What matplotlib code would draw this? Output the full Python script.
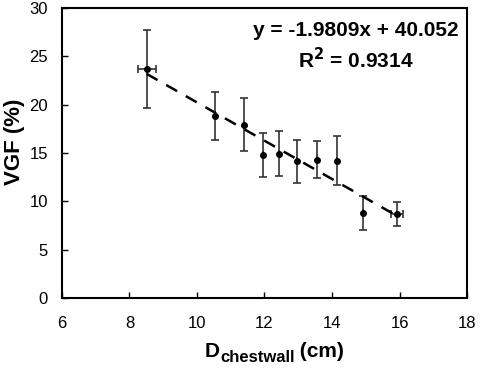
import numpy as np
import matplotlib.pyplot as plt

plt.rcParams['font.family'] = ['Liberation Sans', 'DejaVu Sans']

# --- Data ---
d_chestwall = np.array([8.51, 10.53, 11.39, 11.97, 12.43, 12.97, 13.56, 14.14, 14.91, 15.92])
vgf = np.array([23.7, 18.85, 17.95, 14.8, 14.95, 14.15, 14.3, 14.2, 8.8, 8.7])
vgf_err = np.array([4.0, 2.5, 2.7, 2.25, 2.3, 2.2, 1.9, 2.55, 1.75, 1.2])
d_err = np.array([0.27, 0, 0, 0, 0, 0, 0, 0, 0, 0.17])

slope = -1.9809
intercept = 40.052
r2 = 0.9314

W, H = 480, 368

# --- Plot ---
fig = plt.figure(figsize=(W / 100, H / 100), dpi=100)
ax = fig.add_axes([0.129, 0.19, 0.844, 0.788])

ax.errorbar(d_chestwall, vgf, yerr=vgf_err, xerr=d_err, fmt='o', color='black',
            ecolor='#333333', markersize=4, elinewidth=1.2, capsize=3, capthick=1.2)

fit_x = np.array([d_chestwall.min(), d_chestwall.max()])
ax.plot(fit_x, slope * fit_x + intercept, '--', color='black', lw=1.8, dashes=(5, 4))

ax.set_xlim(6, 18)
ax.set_ylim(0, 30)
ax.set_xticks(range(6, 19, 2))
ax.set_yticks(range(0, 31, 5))
ax.tick_params(direction='in', length=4, width=1, labelsize=12)
ax.tick_params(axis='x', pad=13)
ax.tick_params(axis='y', pad=10)
for s in ax.spines.values():
    s.set_linewidth(1.5)

ax.set_ylabel('VGF (%)', fontsize=16, fontweight='bold')
ax.yaxis.set_label_coords(-0.090, 0.538)

# x label: D with a large bold subscript, built from pieces
renderer = fig.canvas.get_renderer()
base = 11 / H
t1 = fig.text(205 / W, base, 'D', fontsize=15, fontweight='bold', va='baseline')
bb = t1.get_window_extent(renderer)
t2 = fig.text(bb.x1 / W, base - 5 / H, 'chestwall', fontsize=12, fontweight='bold', va='baseline')
bb = t2.get_window_extent(renderer)
fig.text(bb.x1 / W, base, ' (cm)', fontsize=15, fontweight='bold', va='baseline')

ax.text(0.726, 0.924, f'y = {slope}x + {intercept}', transform=ax.transAxes,
        ha='center', va='center', fontsize=15, fontweight='bold')
ax.text(0.726, 0.821, r'R$^{\mathbf{2}}$ = ' + str(r2), transform=ax.transAxes,
        ha='center', va='center', fontsize=15, fontweight='bold')

fig.savefig('out.png', dpi=100)
